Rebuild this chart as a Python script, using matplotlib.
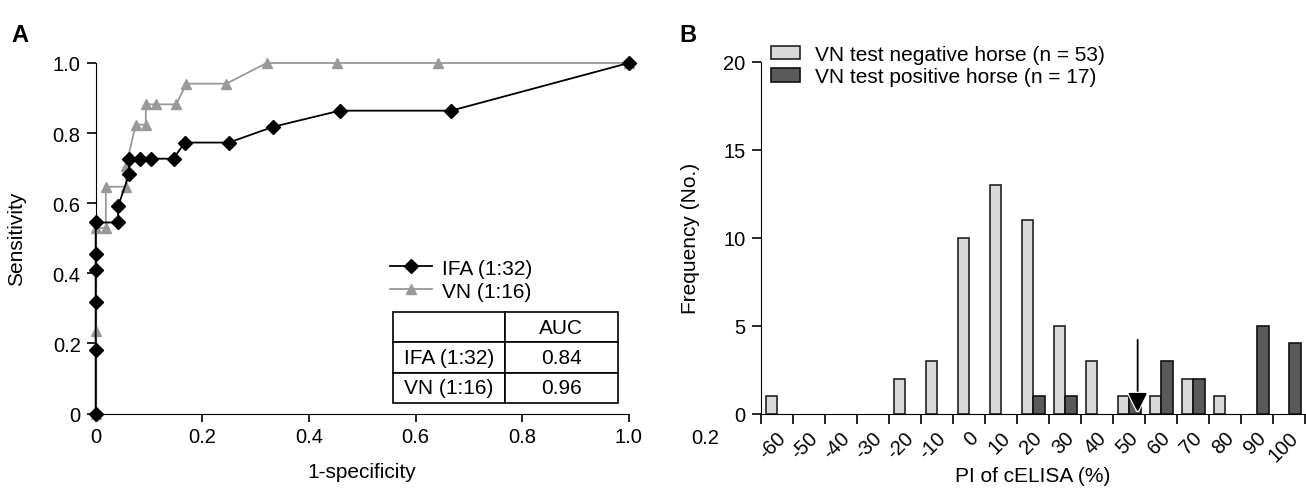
import matplotlib
matplotlib.use("Agg")
import matplotlib.pyplot as plt
import matplotlib.patheffects as pe
from matplotlib.transforms import ScaledTranslation

plt.rcParams['font.family'] = ['Liberation Sans', 'DejaVu Sans']
plt.rcParams['font.size'] = 14.5

# ROC curves (panel A)
ifa_x = [0, 0, 0, 0, 0, 0, 0.042, 0.042, 0.0625, 0.0625, 0.083, 0.104, 0.146,
         0.167, 0.25, 0.333, 0.458, 0.667, 1.0]
ifa_y = [0, 0.182, 0.318, 0.409, 0.455, 0.545, 0.545, 0.591, 0.682, 0.727,
         0.727, 0.727, 0.727, 0.773, 0.773, 0.818, 0.864, 0.864, 1.0]
vn_x = [0, 0, 0, 0.019, 0.019, 0.057, 0.057, 0.075, 0.094, 0.094, 0.113,
        0.151, 0.170, 0.245, 0.321, 0.453, 0.642, 1.0]
vn_y = [0, 0.235, 0.529, 0.529, 0.647, 0.647, 0.706, 0.824, 0.824, 0.882,
        0.882, 0.882, 0.941, 0.941, 1.0, 1.0, 1.0, 1.0]
auc_rows = ["IFA (1:32)", "VN (1:16)"]
auc_vals = ["0.84", "0.96"]

# Histogram (panel B)
pi_bins = [-60, -50, -40, -30, -20, -10, 0, 10, 20, 30, 40, 50, 60, 70, 80, 90, 100]
neg_counts = [1, 0, 0, 0, 2, 3, 10, 13, 11, 5, 3, 1, 1, 2, 1, 0, 0]
pos_counts = [0, 0, 0, 0, 0, 0, 0, 0, 1, 1, 0, 1, 3, 2, 0, 5, 4]
cutoff_bin = 50

fig = plt.figure(figsize=(13.06, 4.89), dpi=100)

# ---------- A ----------
ax1 = fig.add_axes([95.7 / 1306, 1 - 414.5 / 489, 533 / 1306, 350.5 / 489])
ax1.plot(ifa_x, ifa_y, color='black', lw=1.3, marker='D', ms=7,
         clip_on=False, zorder=4, label='IFA (1:32)')
ax1.plot(vn_x, vn_y, color='#999999', lw=1.3, marker='^', ms=7.5,
         clip_on=False, zorder=3, label='VN (1:16)')
ax1.set_xlim(0, 1)
ax1.set_ylim(0, 1)
ticks = [0, 0.2, 0.4, 0.6, 0.8, 1.0]
ax1.set_xticks(ticks)
ax1.set_xticklabels(['0', '0.2', '0.4', '0.6', '0.8', '1.0'])
ax1.set_yticks(ticks)
ax1.set_yticklabels(['0', '0.2', '0.4', '0.6', '0.8', '1.0'])
for s in ['top', 'right']:
    ax1.spines[s].set_visible(False)
ax1.tick_params(axis='x', length=6, width=1.2, pad=4)
ax1.tick_params(axis='y', length=6.5, width=1.2, pad=4.3)
ax1.set_xlabel('1-specificity', labelpad=11, fontsize=15)
ax1.set_ylabel('Sensitivity', labelpad=19, fontsize=15)
ax1.legend(loc='upper left', bbox_to_anchor=(0.552, 0.442), frameon=False,
           handlelength=2.0, handletextpad=0.5, labelspacing=0.2,
           borderaxespad=0, borderpad=0, fontsize=15)

tbl = ax1.table(cellText=[['', 'AUC'], [auc_rows[0], auc_vals[0]],
                          [auc_rows[1], auc_vals[1]]],
                cellLoc='center', bbox=[0.557, 0.03, 0.422, 0.26])
tbl.auto_set_font_size(False)
tbl.set_fontsize(15)
for cell in tbl.get_celld().values():
    cell.set_linewidth(1.2)

fig.text(20 / 1306, 1 - 35 / 489, 'A', fontsize=17, fontweight='bold',
         ha='center', va='center')

# ---------- B ----------
ax2 = fig.add_axes([761 / 1306, 1 - 414.7 / 489, 544 / 1306, 352 / 489])
pos = list(range(len(pi_bins)))
neg_idx = [p for p in pos if neg_counts[p] > 0]
pos_idx = [p for p in pos if pos_counts[p] > 0]
ax2.bar([p - 0.35 for p in neg_idx], [neg_counts[p] for p in neg_idx],
        width=0.35, align='edge', color='#d9d9d9', edgecolor='#222222', lw=1.2,
        label='VN test negative horse (n = 53)')
ax2.bar(pos_idx, [pos_counts[p] for p in pos_idx], width=0.36, align='edge',
        color='#5a5a5a', edgecolor='#111111', lw=1.2,
        label='VN test positive horse (n = 17)')
ax2.set_xlim(-0.5, len(pi_bins) - 0.5)
ax2.set_ylim(0, 20)
ax2.set_yticks([0, 5, 10, 15, 20])
ax2.set_xticks([p - 0.5 for p in range(len(pi_bins) + 1)])
ax2.set_xticklabels([])
ax2.set_xticks(pos, minor=True)
ax2.set_xticklabels([str(v) for v in pi_bins], minor=True, rotation=45,
                    ha='right', va='center', rotation_mode='anchor')
ax2.tick_params(axis='x', which='major', length=7, width=1.2)
ax2.tick_params(axis='x', which='minor', length=0, pad=15)
ax2.tick_params(axis='y', length=6.5, width=1.2, pad=4.5)
off = ScaledTranslation(6 / 100, 0, fig.dpi_scale_trans)
for lab in ax2.get_xticklabels(minor=True):
    lab.set_transform(lab.get_transform() + off)
for s in ['top', 'right']:
    ax2.spines[s].set_visible(False)
ax2.set_xlabel('PI of cELISA (%)', labelpad=1, fontsize=15)
ax2.set_ylabel('Frequency (No.)', labelpad=17, fontsize=15)

ci = pi_bins.index(cutoff_bin) + 0.27
arr = ax2.annotate('', xy=(ci, 0.1), xytext=(ci, 4.2),
                   arrowprops=dict(arrowstyle='-|>,head_length=0.8,head_width=0.4',
                                   color='black', lw=1.3, shrinkA=0, shrinkB=0))
arr.arrow_patch.set_path_effects([pe.Stroke(linewidth=3, foreground='white'),
                                  pe.Normal()])

ax2.legend(loc='upper left', bbox_to_anchor=(0.018, 1.047), frameon=False,
           handlelength=1.4, handleheight=0.6, handletextpad=0.72,
           labelspacing=0.15, borderaxespad=0, borderpad=0, fontsize=15)

fig.text(688 / 1306, 1 - 35 / 489, 'B', fontsize=17, fontweight='bold',
         ha='center', va='center')
fig.text(705 / 1306, 1 - 439 / 489, '0.2', fontsize=14.5, ha='center', va='center')

fig.savefig('out.png', dpi=100)
